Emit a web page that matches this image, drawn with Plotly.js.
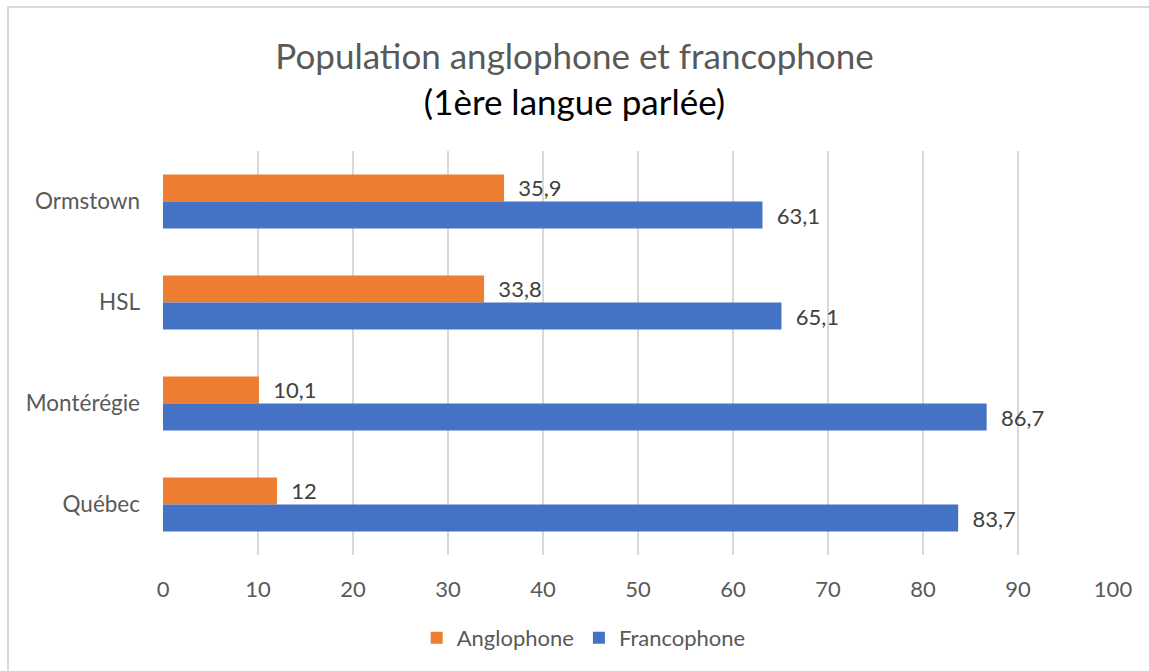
<!DOCTYPE html>
<html>
<head>
<meta charset="utf-8">
<script src="https://cdn.plot.ly/plotly-3.0.1.min.js"></script>
<style>
html,body{margin:0;padding:0;background:#fff;overflow:hidden;}
#wrap{position:absolute;left:0;top:0;width:1149px;height:671px;overflow:hidden;}
#frame{position:absolute;left:7px;top:6px;width:1200px;height:700px;border:2px solid #d9d9d9;box-sizing:border-box;pointer-events:none;}
#chart{position:absolute;left:0;top:0;width:1149px;height:671px;}
</style>
</head>
<body>
<div id="wrap"><div id="chart"></div><div id="frame"></div></div>
<script>
const categories = ["Ormstown", "HSL", "Montérégie", "Québec"];
const anglophone = [35.9, 33.8, 10.1, 12];
const francophone = [63.1, 65.1, 86.7, 83.7];
const xTicks = [0, 10, 20, 30, 40, 50, 60, 70, 80, 90, 100];

const FONT = "Lato, 'Open Sans', sans-serif";
const fmt = v => "\u00a0\u00a0" + String(v).replace(".", ",");

const traces = [
  {
    type: "bar", orientation: "h", name: "Anglophone",
    y: categories, x: anglophone,
    marker: {color: "#ED7D31"},
    text: anglophone.map(fmt), textposition: "outside", cliponaxis: false,
    textfont: {family: FONT, size: 22, color: "#404040"},
    hoverinfo: "none"
  },
  {
    type: "bar", orientation: "h", name: "Francophone",
    y: categories, x: francophone,
    marker: {color: "#4472C4"},
    text: francophone.map(fmt), textposition: "outside", cliponaxis: false,
    textfont: {family: FONT, size: 22, color: "#404040"},
    hoverinfo: "none"
  }
];

const layout = {
  width: 1149, height: 671,
  paper_bgcolor: "rgba(0,0,0,0)", plot_bgcolor: "rgba(0,0,0,0)",
  margin: {l: 163, r: 36, t: 151, b: 116},
  barmode: "group", bargap: 0.465, bargroupgap: 0,
  font: {family: FONT, color: "#595959"},
  title: {
    text: "Population anglophone et francophone<br><span style='color:#000000'>(1ère langue parlée)</span>",
    font: {family: FONT, size: 35, color: "#595959"},
    x: 0.5, xanchor: "center", xref: "container",
    y: 1 - 69/671, yanchor: "top", yref: "container"
  },
  xaxis: {
    range: [0, 100], tickvals: xTicks, ticktext: xTicks.map(String),
    showgrid: true, gridcolor: "#d9d9d9", gridwidth: 2,
    zeroline: false, showline: false, ticks: "",
    ticklabelstandoff: 19,
    tickfont: {family: FONT, size: 22, color: "#595959"},
    fixedrange: true
  },
  yaxis: {
    type: "category", categoryorder: "array", categoryarray: categories,
    autorange: "reversed",
    showgrid: false, zeroline: false, showline: false, ticks: "",
    ticklabelstandoff: 22,
    tickfont: {family: FONT, size: 22.5, color: "#595959"},
    fixedrange: true
  },
  showlegend: true,
  legend: {
    orientation: "h", xref: "container", yref: "container",
    x: 0.508, xanchor: "center", y: 1 - 638/671, yanchor: "middle",
    font: {family: FONT, size: 22, color: "#595959"},
    itemwidth: 30
  }
};

Plotly.newPlot("chart", traces, layout, {displayModeBar: false, staticPlot: true});
</script>
</body>
</html>
